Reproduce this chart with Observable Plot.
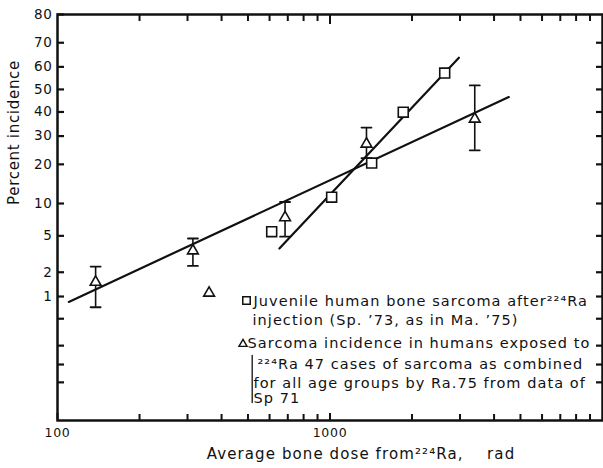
<!DOCTYPE html>
<html>
<head>
<meta charset="utf-8">
<script src="https://cdn.jsdelivr.net/npm/d3@7"></script>
<script src="https://cdn.jsdelivr.net/npm/@observablehq/plot@0.6"></script>
<style>
  html, body { margin: 0; padding: 0; background: #fff; }
  #chart svg { display: block; }
  #chart svg text { letter-spacing: 0.7px; }
  #chart svg .legend text { letter-spacing: 1.05px; }
  #chart svg .xtitle text { letter-spacing: 1.1px; }
</style>
</head>
<body>
<div id="chart"></div>
<script>
// Sarcoma incidence (%) in humans exposed to 224Ra, with error ranges
const triDose  = [138, 314, 360, 684, 1361, 3398];
const triPct   = [1.52, 3.5, 1.11, 7.5, 27, 37];
const triHigh  = [2.33, 4.7, null, 10.3, 33.4, 51.8];
const triLow   = [0.72, 2.37, null, 4.9, 22, 24.7];

// Juvenile human bone sarcoma after 224Ra injection
const sqDose = [611, 1014, 1422, 1857, 2636];
const sqPct  = [5.5, 11.3, 20.4, 39.9, 57.3];

// Fitted straight lines on the log-probit grid (end points)
const triFitDose = [110, 4530];
const triFitPct  = [0.85, 46.6];
const sqFitDose  = [652, 2972];
const sqFitPct   = [3.7, 63.9];

// Axis ticks
const yTickPct    = [70, 60, 50, 40, 30, 20, 10, 5, 2, 1, 0.5, 0.2, 0.1, 0.05];
const yTickLabels = ["70", "60", "50", "40", "30", "20", "10", "5", "2", "1", "", "", "", ""];
const yTopPct = 80, yBottomPct = 0.01;
const xMinorTicks = [200, 300, 400, 500, 600, 700, 800, 900, 2000, 3000, 4000, 5000, 6000, 7000, 8000, 9000];
const xMajorTicks = [100, 1000];
const xMajorLabels = ["100", "1000"];

const yTitle = "Percent incidence";
const xTitle = "Average bone dose from\u00B2\u00B2\u2074Ra,    rad";
const legendSquareLines = [
  "Juvenile human bone sarcoma after\u00B2\u00B2\u2074Ra",
  "injection (Sp. \u201973, as in Ma. \u201975)"
];
const legendTriangleLines = [
  "Sarcoma incidence in humans exposed to",
  "\u00B2\u00B2\u2074Ra 47 cases of sarcoma as combined",
  "for all age groups by Ra.75 from data of",
  "Sp 71"
];

// Inverse of the standard normal CDF (Acklam's rational approximation)
function probit(p) {
  const a = [-3.969683028665376e+01, 2.209460984245205e+02, -2.759285104469687e+02, 1.383577518672690e+02, -3.066479806614716e+01, 2.506628277459239e+00];
  const b = [-5.447609879822406e+01, 1.615858368580409e+02, -1.556989798598866e+02, 6.680131188771972e+01, -1.328068155288572e+01];
  const c = [-7.784894002430293e-03, -3.223964580411365e-01, -2.400758277161838e+00, -2.549671464975079e+00, 4.374664141464968e+00, 2.938163982698783e+00];
  const d = [7.784695709041462e-03, 3.224671290700398e-01, 2.445134137142996e+00, 3.754408661907416e+00];
  const pl = 0.02425, ph = 1 - pl;
  let q, r;
  if (p < pl) {
    q = Math.sqrt(-2 * Math.log(p));
    return (((((c[0]*q+c[1])*q+c[2])*q+c[3])*q+c[4])*q+c[5]) / ((((d[0]*q+d[1])*q+d[2])*q+d[3])*q+1);
  }
  if (p <= ph) {
    q = p - 0.5; r = q * q;
    return (((((a[0]*r+a[1])*r+a[2])*r+a[3])*r+a[4])*r+a[5])*q / (((((b[0]*r+b[1])*r+b[2])*r+b[3])*r+b[4])*r+1);
  }
  q = Math.sqrt(-2 * Math.log(1 - p));
  return -(((((c[0]*q+c[1])*q+c[2])*q+c[3])*q+c[4])*q+c[5]) / ((((d[0]*q+d[1])*q+d[2])*q+d[3])*q+1);
}
const pz = pct => probit(pct / 100);

const tri = triDose.map((x, i) => ({x, y: pz(triPct[i]),
  hi: triHigh[i] == null ? null : pz(triHigh[i]),
  lo: triLow[i] == null ? null : pz(triLow[i])}));
const bars = tri.filter(d => d.hi != null);
const sq = sqDose.map((x, i) => ({x, y: pz(sqPct[i])}));
const triFit = triFitDose.map((x, i) => ({x, y: pz(triFitPct[i])}));
const sqFit = sqFitDose.map((x, i) => ({x, y: pz(sqFitPct[i])}));

const yTicks = yTickPct.map(pz);
const yLabelOf = new Map(yTicks.map((z, i) => [z, yTickLabels[i]]));
yLabelOf.set(pz(yTopPct), "80");
const xLabelOf = new Map(xMajorTicks.map((v, i) => [v, xMajorLabels[i]]));

// a plain segment from the anchor point, used for error-bar caps and the legend bracket
const seg = {draw(ctx, l) { ctx.moveTo(0, 0); ctx.lineTo(0, -l); }};

const font = "DejaVu Sans, sans-serif";
const txt = {frameAnchor: "top-left", textAnchor: "start", lineAnchor: "middle", fontSize: 14.5, fill: "#111", className: "legend"};

const chart = Plot.plot({
  width: 603,
  height: 468,
  marginLeft: 57,
  marginRight: 1,
  marginTop: 14,
  marginBottom: 48,
  style: {fontFamily: font, color: "#111", background: "#fff"},
  x: {type: "log", domain: [100, 10000], label: null},
  y: {type: "linear", domain: [pz(yBottomPct), pz(yTopPct)], label: null},
  marks: [
    // left axis: inward ticks with percent labels
    Plot.axisY({anchor: "left", ticks: [...yTicks, pz(yTopPct)], tickSize: -7, tickPadding: 12,
      tickFormat: z => yLabelOf.get(z) ?? "", fontSize: 13.5, strokeWidth: 2.2, label: null}),
    // right axis: inward ticks only
    Plot.axisY({anchor: "right", ticks: yTicks, tickSize: -7, tickFormat: () => "", strokeWidth: 2.2, label: null}),
    // bottom axis
    Plot.axisX({anchor: "bottom", ticks: xMinorTicks, tickSize: -6, tickFormat: () => "", strokeWidth: 2, label: null}),
    Plot.axisX({anchor: "bottom", ticks: xMajorTicks, tickSize: -7, tickPadding: 15,
      tickFormat: v => xLabelOf.get(v) ?? "", fontSize: 12.5, strokeWidth: 2, label: null}),
    // top axis
    Plot.axisX({anchor: "top", ticks: xMinorTicks, tickSize: -6, tickFormat: () => "", strokeWidth: 2, label: null}),
    Plot.axisX({anchor: "top", ticks: [1000], tickSize: -9, tickFormat: () => "", strokeWidth: 2, label: null}),
    Plot.frame({stroke: "#111", strokeWidth: 2.5}),

    // fitted lines
    Plot.line(triFit, {x: "x", y: "y", stroke: "#111", strokeWidth: 2.2}),
    Plot.line(sqFit, {x: "x", y: "y", stroke: "#111", strokeWidth: 2.2}),

    // error bars
    Plot.ruleX(bars, {x: "x", y1: "lo", y2: "hi", stroke: "#111", strokeWidth: 1.6}),
    Plot.vector(bars, {x: "x", y: "hi", length: 10, rotate: 90, anchor: "middle", shape: seg, stroke: "#111", strokeWidth: 1.8}),
    Plot.vector(bars, {x: "x", y: "lo", length: 10, rotate: 90, anchor: "middle", shape: seg, stroke: "#111", strokeWidth: 1.8}),

    // data points
    Plot.dot(tri, {x: "x", y: "y", symbol: "triangle", r: 4, fill: "#fff", stroke: "#111", strokeWidth: 1.6}),
    Plot.dot(sq, {x: "x", y: "y", symbol: "square", r: 5.6, fill: "#fff", stroke: "#111", strokeWidth: 1.6}),

    // axis titles
    Plot.text([yTitle], {frameAnchor: "left", textAnchor: "middle", dx: -43, dy: -85, rotate: -90, fontSize: 15, fill: "#111"}),
    Plot.text([xTitle], {frameAnchor: "bottom", textAnchor: "middle", dx: 31, dy: 38, fontSize: 15, fill: "#111", className: "xtitle"}),

    // legend
    Plot.dot([0], {frameAnchor: "top-left", dx: 189, dy: 286, symbol: "square", r: 4.2, fill: "#fff", stroke: "#111", strokeWidth: 1.5}),
    Plot.text([legendSquareLines[0]], {...txt, dx: 196, dy: 287}),
    Plot.text([legendSquareLines[1]], {...txt, dx: 195, dy: 306}),
    Plot.dot([0], {frameAnchor: "top-left", dx: 185.5, dy: 329.5, symbol: "triangle", r: 3, fill: "#fff", stroke: "#111", strokeWidth: 1.4}),
    Plot.text([legendTriangleLines[0]], {...txt, dx: 190, dy: 329}),
    Plot.text([legendTriangleLines[1]], {...txt, dx: 200, dy: 350}),
    Plot.text([legendTriangleLines[2]], {...txt, dx: 196, dy: 369}),
    Plot.text([legendTriangleLines[3]], {...txt, dx: 196, dy: 384}),
    Plot.vector([0], {frameAnchor: "top-left", dx: 194.7, dy: 341, length: 47, rotate: 180, anchor: "start", shape: seg, stroke: "#111", strokeWidth: 1.3})
  ]
});

document.getElementById("chart").append(chart);
</script>
</body>
</html>
